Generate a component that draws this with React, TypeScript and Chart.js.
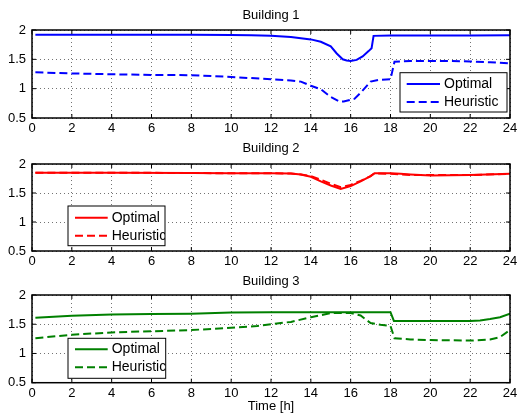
import React, { useEffect, useRef } from "react";
import { Chart, registerables } from "chart.js";

Chart.register(...registerables);

// ---------- DATA ----------
const X_MIN = 0;
const X_MAX = 24;
const X_STEP = 2;
const Y_MIN = 0.5;
const Y_MAX = 2;
const Y_STEP = 0.5;

const TITLES = ["Building 1", "Building 2", "Building 3"];
const SERIES_NAMES = ["Optimal", "Heuristic"];
const X_LABEL = "Time [h]";

// Building 1
const B1_OPT_T = [0.17, 2, 4, 6, 8, 10, 11, 12, 13, 14, 14.5, 15, 15.3, 15.6, 15.8, 16, 16.3, 16.6, 16.9, 17.05, 17.15, 18, 20, 22, 24];
const B1_OPT_V = [1.92, 1.92, 1.92, 1.92, 1.92, 1.915, 1.91, 1.9, 1.88, 1.84, 1.8, 1.72, 1.6, 1.5, 1.48, 1.47, 1.49, 1.55, 1.64, 1.69, 1.9, 1.905, 1.905, 1.905, 1.91];
const B1_HEU_T = [0.17, 2, 4, 6, 8, 10, 11, 12, 13, 13.5, 14, 14.5, 15, 15.45, 15.65, 16.2, 16.5, 17, 17.4, 18, 18.2, 19, 20, 21, 22, 23, 24];
const B1_HEU_V = [1.28, 1.26, 1.245, 1.235, 1.23, 1.2, 1.18, 1.16, 1.14, 1.12, 1.05, 0.99, 0.86, 0.78, 0.78, 0.83, 0.93, 1.12, 1.15, 1.16, 1.46, 1.47, 1.47, 1.47, 1.465, 1.45, 1.43];

// Building 2
const B2_OPT_T = [0.17, 4, 8, 10, 12, 13, 13.5, 14, 14.5, 15, 15.5, 16, 16.5, 17, 17.2, 18, 18.5, 19, 20, 22, 24];
const B2_OPT_V = [1.85, 1.85, 1.845, 1.84, 1.84, 1.835, 1.82, 1.78, 1.7, 1.63, 1.57, 1.62, 1.7, 1.79, 1.84, 1.84, 1.83, 1.82, 1.8, 1.81, 1.83];
const B2_HEU_T = [0.17, 4, 8, 10, 12, 13, 13.5, 14, 14.5, 15, 15.5, 16, 16.5, 17, 17.2, 18, 18.5, 19, 20, 22, 24];
const B2_HEU_V = [1.85, 1.85, 1.845, 1.84, 1.84, 1.835, 1.82, 1.79, 1.73, 1.66, 1.6, 1.64, 1.71, 1.79, 1.84, 1.83, 1.82, 1.81, 1.81, 1.81, 1.83];

// Building 3
const B3_OPT_T = [0.17, 2, 4, 6, 8, 10, 12, 14, 16, 18, 18.17, 20, 22, 22.5, 23, 23.5, 24];
const B3_OPT_V = [1.61, 1.645, 1.665, 1.675, 1.68, 1.7, 1.705, 1.705, 1.705, 1.705, 1.556, 1.556, 1.556, 1.565, 1.59, 1.62, 1.68];
const B3_HEU_T = [0.17, 2, 4, 6, 8, 10, 11.3, 12, 13, 14, 15, 16, 16.5, 17, 17.5, 18, 18.2, 19, 20, 21, 22, 23, 23.5, 24];
const B3_HEU_V = [1.26, 1.32, 1.36, 1.38, 1.4, 1.44, 1.47, 1.5, 1.54, 1.62, 1.69, 1.69, 1.65, 1.52, 1.49, 1.47, 1.26, 1.24, 1.23, 1.225, 1.22, 1.24, 1.28, 1.4];

const COLORS = ["#0000ff", "#ff0000", "#008000"];

// ---------- STYLE / LAYOUT ----------
const FONT = '"Liberation Sans", Arial, Helvetica, sans-serif';
const DASH = [8, 4];

type PanelLayout = {
  top: number;
  height: number;
  padTop: number;
  xAxisHeight: number;
  titleOffset: number;
  legend: { x: number; y: number; w: number; h: number; rows: number[]; lineX0: number; lineX1: number; textX: number };
  showXTitle: boolean;
};

const PANELS: PanelLayout[] = [
  {
    top: 0, height: 140, padTop: 30, xAxisHeight: 22, titleOffset: 15,
    legend: { x: 368, y: 42.7, w: 107, h: 39.3, rows: [11.3, 29.3], lineX0: 6.7, lineX1: 40, textX: 44 },
    showXTitle: false,
  },
  {
    top: 136, height: 138, padTop: 28, xAxisHeight: 23, titleOffset: 16,
    legend: { x: 36, y: 42, w: 97, h: 39.7, rows: [11.7, 29.7], lineX0: 7, lineX1: 39.7, textX: 43.7 },
    showXTitle: false,
  },
  {
    top: 270, height: 146, padTop: 25, xAxisHeight: 33.3, titleOffset: 14,
    legend: { x: 36, y: 43.3, w: 97.7, h: 40, rows: [11, 29], lineX0: 7, lineX1: 39.7, textX: 43.7 },
    showXTitle: true,
  },
];

const SERIES = [
  [[B1_OPT_T, B1_OPT_V], [B1_HEU_T, B1_HEU_V]],
  [[B2_OPT_T, B2_OPT_V], [B2_HEU_T, B2_HEU_V]],
  [[B3_OPT_T, B3_OPT_V], [B3_HEU_T, B3_HEU_V]],
];

const matlabPlugin = {
  id: "matlabFrame",
  afterDraw(chart: any, _args: any, opts: any) {
    const { ctx, chartArea: a } = chart;
    const xs = chart.scales.x;
    const ys = chart.scales.y;
    ctx.save();
    // frame
    ctx.strokeStyle = "#000";
    ctx.lineWidth = 1.5;
    ctx.setLineDash([]);
    ctx.strokeRect(a.left, a.top, a.right - a.left, a.bottom - a.top);
    // inward ticks
    ctx.lineWidth = 1;
    ctx.beginPath();
    xs.ticks.forEach((t: any) => {
      const x = xs.getPixelForValue(t.value);
      ctx.moveTo(x, a.bottom);
      ctx.lineTo(x, a.bottom - 4);
      ctx.moveTo(x, a.top);
      ctx.lineTo(x, a.top + 4);
    });
    ys.ticks.forEach((t: any) => {
      const y = ys.getPixelForValue(t.value);
      ctx.moveTo(a.left, y);
      ctx.lineTo(a.left + 4, y);
      ctx.moveTo(a.right, y);
      ctx.lineTo(a.right - 4, y);
    });
    ctx.stroke();
    // title
    ctx.fillStyle = "#000";
    ctx.font = `13px ${FONT}`;
    ctx.textAlign = "center";
    ctx.textBaseline = "middle";
    ctx.fillText(opts.title, (a.left + a.right) / 2, a.top - opts.titleOffset);
    // legend
    const L = opts.legend;
    const bx = a.left + L.x;
    const by = a.top + L.y;
    ctx.fillStyle = "#fff";
    ctx.fillRect(bx, by, L.w, L.h);
    ctx.save();
    ctx.beginPath();
    ctx.rect(bx, by, L.w, L.h);
    ctx.clip();
    chart.data.datasets.forEach((ds: any, i: number) => {
      const y = by + L.rows[i];
      ctx.strokeStyle = ds.borderColor;
      ctx.lineWidth = 2;
      ctx.setLineDash(ds.borderDash || []);
      ctx.beginPath();
      ctx.moveTo(bx + L.lineX0, y);
      ctx.lineTo(bx + L.lineX1, y);
      ctx.stroke();
      ctx.setLineDash([]);
      ctx.fillStyle = "#000";
      ctx.font = `14px ${FONT}`;
      ctx.textAlign = "left";
      ctx.textBaseline = "middle";
      ctx.fillText(ds.label, bx + L.textX, y);
    });
    ctx.restore();
    ctx.strokeStyle = "#000";
    ctx.lineWidth = 1;
    ctx.setLineDash([]);
    ctx.strokeRect(bx, by, L.w, L.h);
    ctx.restore();
  },
};

function Panel({ index }: { index: number }) {
  const ref = useRef<HTMLCanvasElement | null>(null);
  const layout = PANELS[index];
  useEffect(() => {
    if (!ref.current) return;
    const color = COLORS[index];
    const datasets = SERIES[index].map(([T, V], s) => ({
      label: SERIES_NAMES[s],
      data: T.map((t, i) => ({ x: t, y: V[i] })),
      borderColor: color,
      backgroundColor: color,
      borderWidth: 2,
      borderDash: s === 1 ? DASH : [],
      pointRadius: 0,
      tension: 0,
      fill: false,
      order: s === 1 ? 0 : 1,
    }));
    const chart = new Chart(ref.current, {
      type: "line",
      data: { datasets },
      plugins: [matlabPlugin],
      options: {
        animation: false,
        responsive: false,
        events: [],
        layout: { padding: { top: layout.padTop, left: 0, right: 7, bottom: 0 } },
        plugins: {
          legend: { display: false },
          title: { display: false },
          tooltip: { enabled: false },
          matlabFrame: { title: TITLES[index], titleOffset: layout.titleOffset, legend: layout.legend },
        } as any,
        scales: {
          x: {
            type: "linear",
            min: X_MIN,
            max: X_MAX,
            ticks: {
              stepSize: X_STEP,
              autoSkip: false,
              maxRotation: 0,
              minRotation: 0,
              padding: 3,
              color: "#000",
              font: { family: FONT, size: 13 },
            },
            grid: { color: "rgba(0,0,0,0.55)", lineWidth: 1, drawTicks: false },
            border: { display: false, dash: [1, 3] },
            title: {
              display: layout.showXTitle,
              text: X_LABEL,
              color: "#000",
              font: { family: FONT, size: 13 },
              padding: { top: 0, bottom: 1.5 },
            },
            afterFit: (s: any) => {
              s.height = layout.xAxisHeight;
              s.paddingRight = 0;
              s.paddingLeft = 0;
            },
          },
          y: {
            type: "linear",
            min: Y_MIN,
            max: Y_MAX,
            ticks: {
              stepSize: Y_STEP,
              padding: 6,
              color: "#000",
              font: { family: FONT, size: 13 },
              callback: (v: any) => String(v),
            },
            grid: { color: "rgba(0,0,0,0.55)", lineWidth: 1, drawTicks: false },
            border: { display: false, dash: [1, 3] },
            afterFit: (s: any) => {
              s.width = 32;
            },
          },
        },
      } as any,
    });
    return () => chart.destroy();
  }, [index]);
  return (
    <canvas
      ref={ref}
      width={517}
      height={layout.height}
      style={{ position: "absolute", left: 0, top: layout.top, width: 517, height: layout.height, display: "block" }}
    />
  );
}

export default function App() {
  return (
    <div style={{ position: "absolute", left: 0, top: 0, width: 517, height: 416, background: "#fff" }}>
      {PANELS.map((_, i) => (
        <Panel key={i} index={i} />
      ))}
    </div>
  );
}
